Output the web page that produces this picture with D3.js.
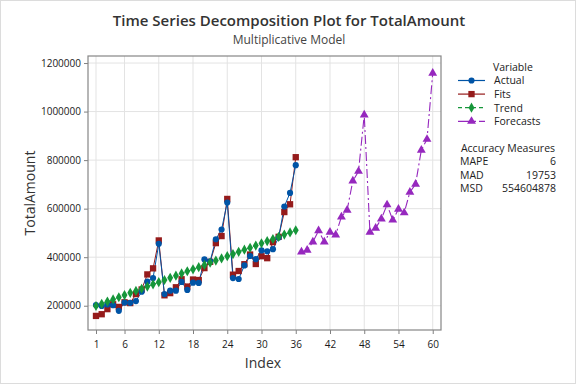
<html>
<head>
<title>Time Series Decomposition</title>
<style>
    body { margin: 0; background: #fff; }
    text { font-family: "Open Sans", "Noto Sans", sans-serif; }
</style>
</head>
<body>
<div id="chart"></div>
<script src="https://d3js.org/d3.v7.min.js"></script>
<script>

    // data (values in TotalAmount units)
    var index = d3.range(1, 37);
    var forecastIndex = d3.range(37, 61);

    var actual = [203000, 199000, 205000, 202000, 179000, 213000, 212000, 219000, 258000, 299000,
        314000, 455000, 248000, 262000, 262000, 298000, 265000, 295000, 294000, 391000,
        383000, 474000, 514000, 625000, 314000, 310000, 366000, 405000, 392000, 428000,
        424000, 433000, 481000, 609000, 665000, 779000];

    var fits = [158000, 165000, 186000, 206000, 195000, 214000, 211000, 248000, 267000, 329000,
        354000, 469000, 243000, 252000, 276000, 309000, 279000, 308000, 306000, 355000,
        381000, 458000, 487000, 640000, 328000, 343000, 371000, 411000, 372000, 404000,
        396000, 462000, 484000, 586000, 618000, 812000];

    var trend = [199000, 208000, 217000, 226000, 235000, 244000, 253000, 261000, 270000, 279000,
        288000, 297000, 306000, 315000, 324000, 333000, 342000, 350000, 359000, 368000,
        377000, 386000, 395000, 404000, 413000, 422000, 431000, 439000, 448000, 457000,
        466000, 475000, 484000, 493000, 502000, 511000];

    var forecasts = [422000, 429000, 463000, 509000, 463000, 503000, 492000, 566000, 594000, 714000,
        754000, 986000, 503000, 520000, 558000, 616000, 553000, 598000, 583000, 668000,
        701000, 841000, 886000, 1158000];

    var xTicks = [1, 6, 12, 18, 24, 30, 36, 42, 48, 54, 60];
    var yTicks = [200000, 400000, 600000, 800000, 1000000, 1200000];

    var accuracyLabels = ["MAPE", "MAD", "MSD"];
    var accuracyValues = ["6", "19753", "554604878"];

    var colors = { actual: "#0054a6", fits: "#951b1b", trend: "#16963a", forecasts: "#9628be" };

    var W = 576, H = 384;
    var plot = { left: 88, right: 441, top: 56, bottom: 330 };

    var svg = d3.select("#chart").append("svg")
        .attr("width", W)
        .attr("height", H);

    // outer border
    svg.append("rect")
        .attr("x", 0.5).attr("y", 0.5)
        .attr("width", W - 1).attr("height", H - 1)
        .attr("fill", "#fff")
        .attr("stroke", "#dcdcdc");

    var x = d3.scaleLinear().domain([-0.4, 61.45]).range([plot.left, plot.right]);
    var y = d3.scaleLinear().domain([100000, 1229000]).range([plot.bottom, plot.top]);

    // gridlines
    svg.append("g").selectAll("line").data(xTicks).enter().append("line")
        .attr("x1", function (d) { return x(d); }).attr("x2", function (d) { return x(d); })
        .attr("y1", plot.top).attr("y2", plot.bottom)
        .attr("stroke", "#e3e3e3").attr("stroke-width", 1);
    svg.append("g").selectAll("line").data(yTicks).enter().append("line")
        .attr("y1", function (d) { return y(d); }).attr("y2", function (d) { return y(d); })
        .attr("x1", plot.left).attr("x2", plot.right)
        .attr("stroke", "#e3e3e3").attr("stroke-width", 1);

    // axes
    var xAxis = svg.append("g")
        .attr("transform", "translate(0," + plot.bottom + ")")
        .call(d3.axisBottom(x).tickValues(xTicks).tickSize(4).tickSizeOuter(0));
    var yAxis = svg.append("g")
        .attr("transform", "translate(" + plot.left + ",0)")
        .call(d3.axisLeft(y).tickValues(yTicks).tickFormat(d3.format("d")).tickSize(4).tickSizeOuter(0));
    [xAxis, yAxis].forEach(function (a) {
        a.select(".domain").remove();
        a.selectAll(".tick line").attr("stroke", "#808080");
        a.selectAll(".tick text")
            .style("fill", "#1a1a1a")
            .style("font-size", "10px")
            .style("font-family", "'Open Sans', sans-serif");
    });
    xAxis.selectAll(".tick text").attr("dy", "1.1em");

    // plot frame
    svg.append("rect")
        .attr("x", plot.left).attr("y", plot.top)
        .attr("width", plot.right - plot.left).attr("height", plot.bottom - plot.top)
        .attr("fill", "none").attr("stroke", "#868686").attr("stroke-width", 1.2);

    var line = d3.line()
        .x(function (d) { return x(d[0]); })
        .y(function (d) { return y(d[1]); });

    var actualPts = index.map(function (d, i) { return [d, actual[i]]; });
    var fitsPts = index.map(function (d, i) { return [d, fits[i]]; });
    var trendPts = index.map(function (d, i) { return [d, trend[i]]; });
    var forecastPts = forecastIndex.map(function (d, i) { return [d, forecasts[i]]; });

    var g = svg.append("g");

    g.append("path").datum(fitsPts).attr("d", line)
        .attr("fill", "none").attr("stroke", colors.fits).attr("stroke-width", 1);
    g.append("path").datum(actualPts).attr("d", line)
        .attr("fill", "none").attr("stroke", colors.actual).attr("stroke-width", 1);
    g.append("path").datum(trendPts).attr("d", line)
        .attr("fill", "none").attr("stroke", colors.trend).attr("stroke-width", 1)
        .attr("stroke-dasharray", "4,3");
    g.append("path").datum(forecastPts).attr("d", line)
        .attr("fill", "none").attr("stroke", colors.forecasts).attr("stroke-width", 1.1)
        .attr("stroke-dasharray", "9,3,2,3");

    var sym = {
        actual: d3.symbol().type(d3.symbolCircle).size(30),
        fits: d3.symbol().type(d3.symbolSquare).size(40),
        trend: d3.symbol().type(d3.symbolDiamond).size(30),
        forecasts: d3.symbol().type(d3.symbolTriangle).size(34)
    };

    function drawMarkers(pts, key) {
        g.append("g").selectAll("path").data(pts).enter().append("path")
            .attr("d", sym[key])
            .attr("transform", function (d) { return "translate(" + x(d[0]) + "," + y(d[1]) + ")"; })
            .attr("fill", colors[key]);
    }
    drawMarkers(fitsPts, "fits");
    drawMarkers(actualPts, "actual");
    drawMarkers(trendPts, "trend");
    drawMarkers(forecastPts, "forecasts");

    // titles
    svg.append("text")
        .attr("x", 289).attr("y", 26)
        .attr("text-anchor", "middle")
        .style("font-size", "15px").style("font-weight", "600")
        .attr("fill", "#333")
        .text("Time Series Decomposition Plot for TotalAmount");
    svg.append("text")
        .attr("x", 289).attr("y", 44)
        .attr("text-anchor", "middle")
        .style("font-size", "12px")
        .attr("fill", "#444")
        .text("Multiplicative Model");

    // axis labels
    svg.append("text")
        .attr("x", 263).attr("y", 368)
        .attr("text-anchor", "middle")
        .style("font-size", "14px")
        .attr("fill", "#333")
        .text("Index");
    svg.append("text")
        .attr("transform", "translate(35,193) rotate(-90)")
        .attr("text-anchor", "middle")
        .style("font-size", "14px")
        .attr("fill", "#333")
        .text("TotalAmount");

    // legend
    var legend = svg.append("g");
    legend.append("text")
        .attr("x", 493).attr("y", 71)
        .style("font-size", "10.5px").attr("fill", "#222")
        .text("Variable");

    var legendItems = [
        { key: "actual", label: "Actual", dash: null },
        { key: "fits", label: "Fits", dash: null },
        { key: "trend", label: "Trend", dash: "4,3" },
        { key: "forecasts", label: "Forecasts", dash: "12,3,3,3" }
    ];
    legendItems.forEach(function (it, i) {
        var yy = 80.5 + i * 13.6;
        legend.append("line")
            .attr("x1", 458).attr("x2", 485)
            .attr("y1", yy).attr("y2", yy)
            .attr("stroke", colors[it.key]).attr("stroke-width", 1.2)
            .attr("stroke-dasharray", it.dash);
        legend.append("path")
            .attr("d", sym[it.key])
            .attr("transform", "translate(471.5," + yy + ")")
            .attr("fill", colors[it.key]);
        legend.append("text")
            .attr("x", 494).attr("y", yy + 3.8)
            .style("font-size", "10.5px").attr("fill", "#222")
            .text(it.label);
    });

    legend.append("text")
        .attr("x", 508).attr("y", 151.5)
        .attr("text-anchor", "middle")
        .style("font-size", "10.5px").attr("fill", "#222")
        .text("Accuracy Measures");
    accuracyLabels.forEach(function (lab, i) {
        var yy = 165 + i * 13.6;
        legend.append("text")
            .attr("x", 460).attr("y", yy)
            .style("font-size", "10.5px").attr("fill", "#222")
            .text(lab);
        legend.append("text")
            .attr("x", 556).attr("y", yy)
            .attr("text-anchor", "end")
            .style("font-size", "10.5px").attr("fill", "#222")
            .text(accuracyValues[i]);
    });

</script>
</body>
</html>
